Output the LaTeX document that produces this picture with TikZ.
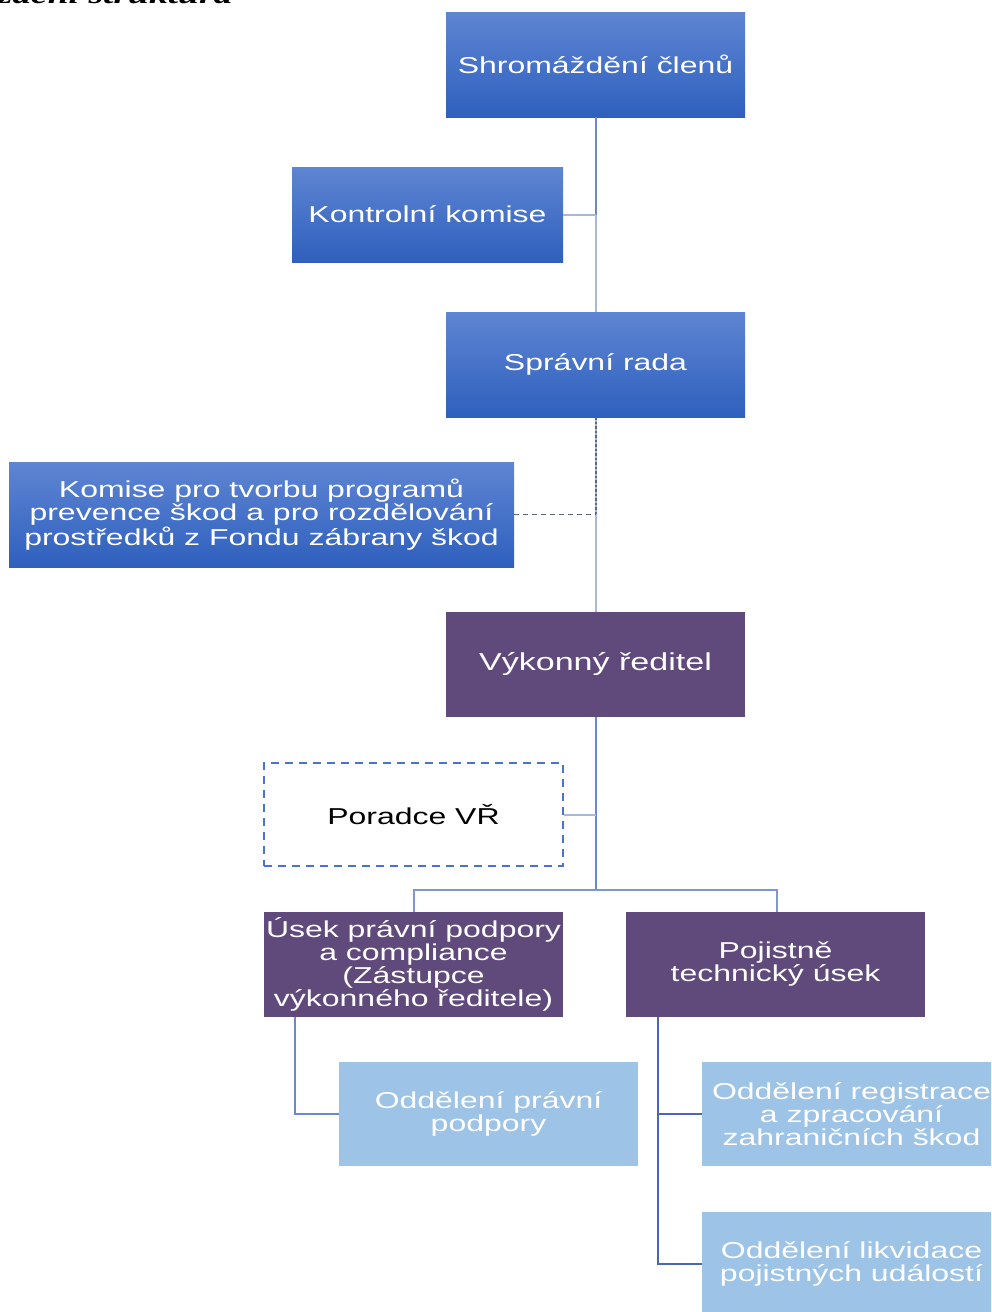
\documentclass[tikz,border=0pt]{standalone}
\usepackage{fontspec}
\setmainfont{Liberation Sans}
\newfontfamily\boxfont{Liberation Sans}[FakeStretch=1.39]
\newfontfamily\headfont{Liberation Serif}[FakeStretch=1.39]
\definecolor{bluetop}{HTML}{5E85D2}
\definecolor{bluebot}{HTML}{2F60BE}
\definecolor{purp}{HTML}{5F4A7B}
\definecolor{lblue}{HTML}{9DC3E6}
\definecolor{dashblue}{HTML}{4A74C6}
\definecolor{lineA}{HTML}{6F87BF}
\definecolor{lineB}{HTML}{A9B8DA}
\definecolor{lineC}{HTML}{6A8BCB}
\definecolor{lineD}{HTML}{4B67B1}
\definecolor{dotgray}{HTML}{5F6878}
\tikzset{
  base/.style={inner sep=0pt, align=center, font=\boxfont\fontsize{23}{23}\selectfont, text=white},
  bluebox/.style={base, top color=bluetop, bottom color=bluebot, draw=none},
  purpbox/.style={base, fill=purp},
  lightbox/.style={base, fill=lblue},
  dashbox/.style={base, text=black, draw=dashblue, line width=1.8pt, dash pattern=on 8pt off 6pt},
  conA/.style={draw=lineA, line width=2pt},
  conB/.style={draw=lineB, line width=2pt},
  conC/.style={draw=lineC, line width=2.2pt},
  conD/.style={draw=lineD, line width=1.8pt},
  dotcon/.style={draw=dotgray, line width=1.8pt, dash pattern=on 2.5pt off 2pt},
  dashcon/.style={draw=dotgray, line width=1.3pt, dash pattern=on 5pt off 4pt},
}
\begin{document}
\begin{tikzpicture}[x=1pt,y=1pt]
\useasboundingbox (0,0) rectangle (991,-1312);
\begin{scope}
\clip (0,0) rectangle (991,-1312);
\node[anchor=base east, font=\headfont\bfseries\itshape\fontsize{27}{27}\selectfont] (head) at (236,-3.5) {Organizační struktura};

\node[bluebox, minimum width=299pt, minimum height=105pt] (shrom) at (595.5,-64.5) {Shromáždění členů};
\node[bluebox, minimum width=271pt, minimum height=95pt] (kontrol) at (427.5,-214.5) {Kontrolní komise};
\node[bluebox, minimum width=299pt, minimum height=105pt] (sprav) at (595.5,-364.5) {Správní rada};
\node[bluebox, minimum width=505pt, minimum height=105pt] (komise) at (261.5,-514.5) {Komise pro tvorbu programů\\prevence škod a pro rozdělování\\prostředků z Fondu zábrany škod};
\node[purpbox, minimum width=299pt, minimum height=105pt, font=\boxfont\fontsize{24.5}{24.5}\selectfont] (vykon) at (595.5,-664.5) {Výkonný ředitel};
\node[dashbox, minimum width=299pt, minimum height=103pt] (poradce) at (413.5,-814.5) {Poradce VŘ};
\node[purpbox, minimum width=299pt, minimum height=105pt] (usek) at (413.5,-964.5) {Úsek právní podpory\\a compliance\\(Zástupce\\výkonného ředitele)};
\node[purpbox, minimum width=299pt, minimum height=105pt] (pojist) at (775.5,-964.5) {Pojistně\\technický úsek};
\node[lightbox, minimum width=299pt, minimum height=104pt] (oprav) at (488.5,-1114) {Oddělení právní\\podpory};
\node[lightbox, minimum width=299pt, minimum height=104pt] (oreg) at (851.5,-1114) {Oddělení registrace\\a zpracování\\zahraničních škod};
\node[lightbox, minimum width=299pt, minimum height=104pt] (olik) at (851.5,-1264) {Oddělení likvidace\\pojistných událostí};

\coordinate (bus) at (596,-890);

% top chain
\draw[conA] ([xshift=0.5pt]shrom.south) -- (kontrol.east -| bus);
\draw[conB] (kontrol.east -| bus) -- ([xshift=0.5pt]sprav.north);
\draw[conB] (kontrol.east) -- (kontrol.east -| bus);
% board to executive
\draw[conB] ([xshift=0.5pt]sprav.south) -- ([xshift=0.5pt]vykon.north);
\draw[dotcon] ([xshift=0.5pt]sprav.south) -- (komise.east -| bus);
\draw[dashcon] (komise.east) -- (komise.east -| bus);
% executive
\draw[conC] ([xshift=0.5pt]vykon.south) -- (bus);
\draw[conB] (poradce.east) -- (poradce.east -| bus);
\draw[lineC!70!lineB, line width=2pt] ([xshift=0.5pt]usek.north) |- (bus) -| ([xshift=1.5pt]pojist.north);
% departments
\draw[conC] ([xshift=31pt]usek.south west) |- (oprav.west);
\draw[conD] ([xshift=32pt]pojist.south west) |- (oreg.west);
\draw[conD] ([xshift=32pt]pojist.south west) |- (olik.west);
\end{scope}
\end{tikzpicture}
\end{document}
